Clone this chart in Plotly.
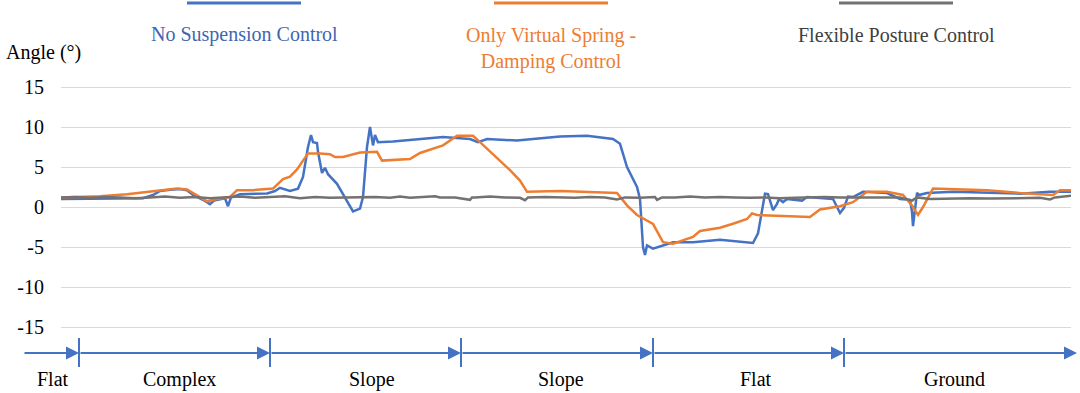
import plotly.graph_objects as go

# ---------------- data (t = sample position along the run) ----------------
t_blue = [0, 39, 82, 92, 99, 109, 119, 126, 132, 142, 149, 153, 159, 164, 167, 170, 179, 206, 214, 219,
          229, 237, 242, 247, 250, 252, 256, 257, 261, 264, 267, 276, 292, 299, 302, 306, 309, 312, 314,
          317, 332, 382, 409, 417, 426, 456, 499, 526, 552, 559, 566, 576, 579, 582, 584, 586, 592, 599,
          612, 632, 659, 692, 697, 704, 707, 712, 716, 718, 722, 726, 741, 746, 772, 776, 779, 783, 787,
          792, 802, 826, 839, 849, 851, 852, 854, 856, 858, 866, 892, 959, 989, 1010]
v_blue = [1.0, 1.05, 1.1, 1.5, 2.0, 2.15, 2.25, 2.1, 1.5, 0.9, 0.35, 0.8, 1.0, 1.1, 0.1, 1.2, 1.6, 1.7,
          2.0, 2.4, 2.0, 2.3, 3.75, 7.5, 9.0, 8.1, 8.0, 6.9, 4.25, 4.9, 4.1, 2.9, -0.55, -0.2, 1.25, 7.5,
          10.0, 7.7, 9.0, 8.1, 8.2, 8.75, 8.5, 8.1, 8.5, 8.3, 8.8, 8.9, 8.5, 7.9, 5.0, 2.5, 1.0, -5.0,
          -6.0, -4.8, -5.2, -4.9, -4.4, -4.4, -4.1, -4.5, -3.3, 1.67, 1.6, -0.4, 0.4, 1.0, 0.6, 1.0, 0.8,
          1.25, 1.0, 0.0, -0.75, -0.1, 1.3, 1.25, 1.9, 1.75, 1.0, 0.9, -0.6, -2.4, -0.2, 1.75, 1.5, 1.75,
          1.9, 1.67, 1.9, 1.9]

t_orange = [0, 39, 66, 89, 116, 126, 136, 146, 156, 169, 176, 192, 212, 222, 229, 236, 242, 247, 259,
            269, 274, 282, 299, 316, 321, 349, 359, 382, 396, 412, 419, 439, 449, 459, 466, 499, 532,
            556, 566, 576, 592, 602, 612, 632, 639, 659, 672, 686, 691, 696, 749, 759, 779, 792, 806,
            826, 842, 851, 857, 862, 872, 926, 959, 992, 999, 1010]
v_orange = [1.2, 1.35, 1.6, 1.9, 2.3, 2.2, 1.5, 0.7, 1.0, 1.25, 2.1, 2.1, 2.3, 3.5, 3.8, 4.7, 5.8, 6.7,
            6.7, 6.6, 6.25, 6.25, 6.8, 6.9, 5.8, 6.0, 6.75, 7.7, 8.9, 8.9, 8.1, 5.8, 4.6, 3.3, 1.9, 2.0,
            1.9, 1.75, 0.2, -1.0, -2.1, -4.4, -4.6, -3.75, -3.0, -2.6, -2.1, -1.5, -0.8, -1.0, -1.25,
            -0.3, 0.1, 0.6, 1.9, 1.9, 1.5, 0.2, -1.0, 0.0, 2.3, 2.1, 1.75, 1.5, 2.1, 2.1]

t_gray = [0, 14, 29, 44, 59, 74, 89, 104, 119, 134, 149, 164, 179, 194, 209, 224, 239, 254, 269, 284,
          299, 314, 329, 339, 349, 359, 374, 379, 394, 409, 411, 414, 429, 444, 459, 464, 467, 484, 499,
          514, 529, 544, 556, 564, 579, 594, 596, 601, 614, 629, 644, 659, 674, 689, 704, 719, 734, 749,
          764, 779, 794, 809, 824, 839, 851, 856, 869, 889, 909, 929, 949, 979, 989, 994, 1010]
v_gray = [1.2, 1.25, 1.15, 1.25, 1.2, 1.1, 1.2, 1.3, 1.15, 1.25, 1.1, 1.2, 1.3, 1.15, 1.25, 1.35, 1.1,
          1.25, 1.15, 1.2, 1.2, 1.25, 1.15, 1.3, 1.15, 1.2, 1.35, 1.2, 1.2, 0.9, 1.2, 1.2, 1.3, 1.2, 1.15,
          0.85, 1.2, 1.25, 1.2, 1.15, 1.25, 1.2, 0.95, 1.2, 1.15, 1.25, 0.9, 1.2, 1.2, 1.3, 1.2, 1.25, 1.2,
          1.15, 1.2, 1.1, 1.15, 1.2, 1.25, 1.2, 1.2, 1.25, 1.2, 1.2, 0.8, 1.2, 1.0, 1.05, 1.1, 1.05, 1.1,
          1.15, 0.95, 1.2, 1.4]

series_names = ["No Suspension Control", "Only Virtual Spring -<br>Damping Control", "Flexible Posture Control"]
series_colors = ["#4472C4", "#ED7D31", "#767171"]
text_colors = ["#3F66B0", "#ED7D31", "#404040"]

y_ticks = [15, 10, 5, 0, -5, -10, -15]

stage_labels = ["Flat", "Complex", "Slope", "Slope", "Flat", "Ground"]
stage_bounds = [-38, 18, 209, 400, 592, 783, 1016]
stage_label_pos = [-8, 118, 311, 500, 695, 893]

X_MAX = 1010
FONT = "Liberation Serif"

# ---------------- layout helpers ----------------
PLOT_L, PLOT_R, PLOT_T, PLOT_B = 61, 1071, 83, 331


def px_x(p):
    return (p - PLOT_L) / (PLOT_R - PLOT_L)


def px_y(p):
    return (PLOT_B - p) / (PLOT_B - PLOT_T)


def t_to_paper(t):
    return t / X_MAX


fig = go.Figure()
for tt, vv, name, col in zip([t_blue, t_orange, t_gray], [v_blue, v_orange, v_gray],
                             series_names, series_colors):
    fig.add_trace(go.Scatter(x=tt, y=vv, mode="lines", name=name,
                             line=dict(color=col, width=2.5), showlegend=False, hoverinfo="skip"))

annotations = []
shapes = []

# custom legend
legend_centers = [244, 551, 896]
legend_text_y = [34, 49, 35]
for cx, ty, name, col, tcol in zip(legend_centers, legend_text_y, series_names, series_colors, text_colors):
    shapes.append(dict(type="line", xref="paper", yref="paper",
                       x0=px_x(cx - 57), x1=px_x(cx + 57), y0=px_y(3), y1=px_y(3),
                       line=dict(color=col, width=3)))
    annotations.append(dict(text=name, xref="paper", yref="paper", x=px_x(cx), y=px_y(ty),
                            xanchor="center", yanchor="middle", showarrow=False,
                            font=dict(family=FONT, size=20, color=tcol)))

# y axis title
annotations.append(dict(text="Angle (°)", xref="paper", yref="paper", x=px_x(4), y=px_y(52),
                        xanchor="left", yanchor="middle", showarrow=False,
                        font=dict(family=FONT, size=20, color="#000000")))

# stage arrow
ARROW_Y = 353
for i in range(len(stage_bounds) - 1):
    x1 = t_to_paper(stage_bounds[i + 1])
    seg_px = (stage_bounds[i + 1] - stage_bounds[i]) * (PLOT_R - PLOT_L) / X_MAX
    annotations.append(dict(text="", xref="paper", yref="paper", x=x1, y=px_y(ARROW_Y),
                            axref="pixel", ayref="pixel", ax=-seg_px, ay=0,
                            showarrow=True, arrowhead=2, arrowsize=1.3, arrowwidth=2,
                            arrowcolor="#4472C4", standoff=0, startstandoff=0))
for b in stage_bounds[1:-1]:
    shapes.append(dict(type="line", xref="paper", yref="paper",
                       x0=t_to_paper(b), x1=t_to_paper(b), y0=px_y(338), y1=px_y(367),
                       line=dict(color="#4472C4", width=2)))
for lab, pos in zip(stage_labels, stage_label_pos):
    annotations.append(dict(text=lab, xref="paper", yref="paper", x=t_to_paper(pos), y=px_y(379),
                            xanchor="center", yanchor="middle", showarrow=False,
                            font=dict(family=FONT, size=20, color="#000000")))

fig.update_layout(
    width=1080, height=393,
    margin=dict(l=PLOT_L, r=1080 - PLOT_R, t=PLOT_T, b=393 - PLOT_B, pad=0),
    paper_bgcolor="white", plot_bgcolor="white",
    font=dict(family=FONT, size=20, color="#000000"),
    xaxis=dict(range=[0, X_MAX], showgrid=False, zeroline=False, showticklabels=False,
               showline=False, ticks=""),
    yaxis=dict(range=[-15.5, 15.5], tickvals=y_ticks, ticktext=[str(v) for v in y_ticks],
               showgrid=True, gridcolor="#D9D9D9", gridwidth=1, zeroline=False,
               showline=False, ticks="", ticklabelstandoff=16,
               tickfont=dict(family=FONT, size=20, color="#000000")),
    annotations=annotations, shapes=shapes, showlegend=False, hovermode=False,
)

fig.write_html("out.html", config={"displayModeBar": False, "staticPlot": True},
               post_script="document.body.style.margin='0';document.body.style.overflow='hidden';")
